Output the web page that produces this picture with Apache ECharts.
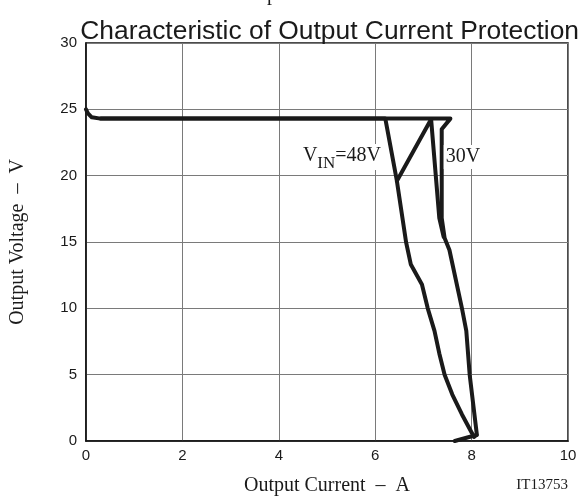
<!DOCTYPE html>
<html>
<head>
<meta charset="utf-8">
<script src="https://cdn.jsdelivr.net/npm/echarts@6/dist/echarts.min.js"></script>
<style>html,body{margin:0;padding:0;background:#fff}#c{width:581px;height:501px}</style>
</head>
<body>
<div id="c"></div>
<script>
// Data (Output Current A, Output Voltage V)
const xTicks = [0, 2, 4, 6, 8, 10];
const yTicks = [0, 5, 10, 15, 20, 25, 30];
const vin48 = [[0, 25.0], [0.04, 24.7], [0.12, 24.4], [0.3, 24.3], [6.21, 24.3], [6.45, 19.6], [6.64, 15.0], [6.74, 13.3], [6.97, 11.8], [7.09, 10.0], [7.23, 8.3], [7.33, 6.6], [7.44, 5.0], [7.6, 3.5], [7.8, 2.0], [8.05, 0.3], [8.1, 0.45], [7.65, 0.0]];
const vin30 = [[0.3, 24.3], [7.56, 24.3], [7.38, 23.5], [7.38, 16.8], [7.44, 15.3], [7.54, 14.4], [7.8, 10.0], [7.89, 8.3], [7.96, 5.0], [8.11, 0.45]];
const transition = [[6.45, 19.6], [7.16, 24.25], [7.33, 16.8], [7.42, 15.4]];
const label48 = [5.31, 21.4];
const label30 = [7.82, 21.4];

const sans = 'Liberation Sans, Arial, sans-serif';
const serif = 'Liberation Serif, Times New Roman, serif';
const lineStyle = { color: '#1a1a1a', width: 4, join: 'round', cap: 'round' };

const chart = echarts.init(document.getElementById('c'), null, { renderer: 'canvas' });
chart.setOption({
  animation: false,
  backgroundColor: '#fff',
  title: {
    text: 'Characteristic of Output Current Protection',
    right: -3, top: 14,
    textStyle: { fontFamily: sans, fontSize: 26.4, fontWeight: 'normal', color: '#1a1a1a' }
  },
  grid: { left: 80, right: 13, top: 43, bottom: 55, show: true, borderColor: '#111', borderWidth: 1.5 },
  xAxis: {
    type: 'value', min: 0, max: 10, interval: 2,
    name: 'Output Current  –  A', nameLocation: 'middle', nameGap: 35,
    nameTextStyle: { fontFamily: serif, fontSize: 20, color: '#1a1a1a' },
    axisLine: { show: true, lineStyle: { color: '#111', width: 1.5 } },
    axisTick: { show: false },
    axisLabel: { fontFamily: sans, fontSize: 15, color: '#1a1a1a', margin: 7, formatter: v => xTicks.includes(v) ? String(v) : '' },
    splitLine: { show: true, lineStyle: { color: '#7a7a7a', width: 1 } }
  },
  yAxis: {
    type: 'value', min: 0, max: 30, interval: 5,
    name: 'Output Voltage  –  V', nameLocation: 'middle', nameGap: 58, nameRotate: 90,
    nameTextStyle: { fontFamily: serif, fontSize: 20, color: '#1a1a1a' },
    axisLine: { show: true, lineStyle: { color: '#111', width: 1.5 } },
    axisTick: { show: false },
    axisLabel: { fontFamily: sans, fontSize: 15, color: '#1a1a1a', margin: 9, formatter: v => yTicks.includes(v) ? String(v) : '' },
    splitLine: { show: true, lineStyle: { color: '#7a7a7a', width: 1 } }
  },
  graphic: [
    { type: 'text', right: 13, top: 478, style: { text: 'IT13753', font: '15px ' + serif, fill: '#1a1a1a' } },
    { type: 'text', left: 237, top: -15, style: { text: 'Output Current  –  A', font: '20px ' + serif, fill: '#1a1a1a' } },
    { type: 'text', right: 13, top: -12, style: { text: 'IT13751', font: '15px ' + serif, fill: '#1a1a1a' } }
  ],
  series: [
    {
      name: 'VIN=48V', type: 'line', data: vin48, showSymbol: false, symbol: 'none', lineStyle, z: 3,
      markPoint: {
        symbol: 'circle', symbolSize: 0,
        data: [{ coord: label48 }],
        label: {
          show: true, position: 'inside', formatter: '{v|V}{s|IN}{v|=48V}',
          backgroundColor: '#fff', padding: [2, 2, 2, 2],
          rich: {
            v: { fontFamily: serif, fontSize: 20, color: '#1a1a1a', lineHeight: 22, verticalAlign: 'top' },
            s: { fontFamily: serif, fontSize: 17, color: '#1a1a1a', lineHeight: 22, padding: [9, 0, 0, 0], verticalAlign: 'top' }
          }
        }
      }
    },
    {
      name: '30V', type: 'line', data: vin30, showSymbol: false, symbol: 'none', lineStyle, z: 3,
      markPoint: {
        symbol: 'circle', symbolSize: 0,
        data: [{ coord: label30 }],
        label: {
          show: true, position: 'inside', formatter: '30V',
          backgroundColor: '#fff', padding: [2, 2, 2, 2],
          fontFamily: serif, fontSize: 20, color: '#1a1a1a'
        }
      }
    },
    { name: 'transition', type: 'line', data: transition, showSymbol: false, symbol: 'none', lineStyle, z: 3 }
  ]
});
</script>
</body>
</html>
